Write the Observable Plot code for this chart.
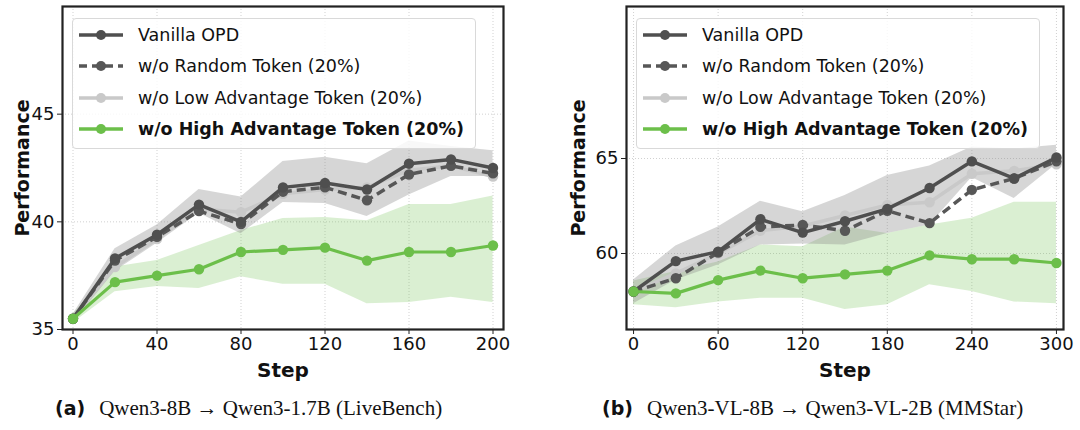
<!DOCTYPE html>
<html>
<head>
<meta charset="utf-8">
<script src="https://cdn.jsdelivr.net/npm/d3@7"></script>
<script src="https://cdn.jsdelivr.net/npm/@observablehq/plot@0.6"></script>
<style>
  html, body { margin: 0; padding: 0; background: #fff; }
  #wrap { position: relative; width: 1080px; height: 430px; overflow: hidden; }
  .panel { position: absolute; top: 0; width: 540px; height: 385px; }
  .legend {
    position: absolute; top: 18px; width: 404px; height: 131px; box-sizing: border-box;
    border: 1px solid #d9d9d9; border-radius: 4px; background: rgba(255,255,255,0.82);
    padding-top: 0px; font-family: "DejaVu Sans", sans-serif; font-size: 17.5px; color: #111;
  }
  .legend .row { height: 31.5px; display: flex; align-items: center; white-space: nowrap; }
  .legend svg { width: 65px; height: 20px; flex: none; }
  .caption { position: absolute; top: 396px; white-space: nowrap; font-family: "Liberation Serif", serif; font-size: 21px; color: #111; }
  .caption b { font-family: "DejaVu Sans", sans-serif; font-size: 19px; margin-right: 14px; }
</style>
</head>
<body>
<div id="wrap"></div>
<script>
// ---------- names ----------
const seriesNames = ["Vanilla OPD", "w/o Random Token (20%)", "w/o Low Advantage Token (20%)", "w/o High Advantage Token (20%)"];
const captionTags = ["(a)", "(b)"];
const captionTexts = ["Qwen3-8B → Qwen3-1.7B (LiveBench)", "Qwen3-VL-8B → Qwen3-VL-2B (MMStar)"];
const xLabel = "Step";
const yLabel = "Performance";

// ---------- panel (a) ----------
const stepsA = [0, 20, 40, 60, 80, 100, 120, 140, 160, 180, 200];
const vanillaA = [35.5, 38.3, 39.4, 40.8, 40.0, 41.6, 41.8, 41.5, 42.7, 42.9, 42.5];
const randomA  = [35.5, 38.2, 39.3, 40.5, 39.9, 41.4, 41.6, 41.0, 42.2, 42.6, 42.25];
const lowA     = [35.5, 37.9, 39.2, 40.6, 40.45, 41.3, 41.5, 41.6, 42.4, 42.6, 42.1];
const highA    = [35.5, 37.2, 37.5, 37.8, 38.6, 38.7, 38.8, 38.2, 38.6, 38.6, 38.9];
const vanillaLoA = [35.3, 37.7, 39.0, 40.4, 39.45, 40.9, 40.85, 40.25, 41.25, 42.1, 42.1];
const vanillaHiA = [35.7, 38.75, 39.85, 41.5, 41.15, 42.8, 43.0, 42.7, 43.75, 43.5, 43.3];
const highLoA = [35.3, 36.75, 37.0, 36.9, 37.45, 37.1, 37.1, 36.2, 36.25, 36.5, 36.25];
const highHiA = [35.7, 37.9, 38.2, 38.9, 39.6, 40.15, 40.2, 40.05, 40.8, 40.8, 41.2];
const xTicksA = [0, 40, 80, 120, 160, 200];
const yTicksA = [35, 40, 45];

// ---------- panel (b) ----------
const stepsB = [0, 30, 60, 90, 120, 150, 180, 210, 240, 270, 300];
const vanillaB = [58.0, 59.6, 60.1, 61.8, 61.1, 61.7, 62.35, 63.45, 64.85, 63.95, 65.05];
const randomB  = [58.0, 58.7, 60.05, 61.4, 61.5, 61.2, 62.25, 61.6, 63.35, 63.95, 64.85];
const lowB     = [58.0, 58.95, 60.0, 61.2, 61.45, 62.0, 62.55, 62.7, 64.2, 64.35, 64.7];
const highB    = [58.0, 57.9, 58.6, 59.1, 58.7, 58.9, 59.1, 59.9, 59.7, 59.7, 59.5];
const vanillaLoB = [57.35, 58.6, 59.4, 60.45, 60.5, 60.45, 61.05, 61.5, 64.0, 62.9, 64.7];
const vanillaHiB = [58.6, 60.4, 61.4, 62.75, 62.2, 63.05, 64.1, 64.6, 65.6, 65.5, 65.7];
const highLoB = [57.3, 57.15, 57.45, 57.65, 57.65, 57.05, 57.3, 58.35, 58.0, 57.45, 57.35];
const highHiB = [58.55, 59.05, 59.55, 60.45, 60.35, 61.4, 61.05, 61.5, 61.85, 62.7, 62.7];
const xTicksB = [0, 60, 120, 180, 240, 300];
const yTicksB = [60, 65];

// ---------- styles ----------
const colVanilla = "#4f4f4f";
const colRandom = "#575757";
const colLow = "#c9c9c9";
const colHigh = "#6cbf4a";
const seriesStyles = [
  {stroke: colVanilla, dash: null, bold: false},
  {stroke: colRandom, dash: "8,5", bold: false},
  {stroke: colLow, dash: null, bold: false},
  {stroke: colHigh, dash: null, bold: true}
];

function makeChart(cfg) {
  const rows = cfg.steps.map((s, i) => ({
    step: s, vanilla: cfg.vanilla[i], random: cfg.random[i], low: cfg.low[i], high: cfg.high[i],
    vLo: cfg.vLo[i], vHi: cfg.vHi[i], hLo: cfg.hLo[i], hHi: cfg.hHi[i]
  }));
  const lineOpts = (key, stroke, extra = {}) =>
    Plot.line(rows, {x: "step", y: key, stroke, strokeWidth: 3.5, strokeLinejoin: "round", strokeLinecap: "butt", ...extra});
  const dotOpts = (key, fill) => Plot.dot(rows, {x: "step", y: key, fill, r: 5.2});
  return Plot.plot({
    width: 540, height: 385,
    marginTop: 6, marginBottom: 56, marginLeft: cfg.marginLeft, marginRight: cfg.marginRight,
    style: {fontFamily: "DejaVu Sans, sans-serif", fontSize: "18px", color: "#111", background: "transparent"},
    x: {domain: cfg.xDomain},
    y: {domain: cfg.yDomain},
    marks: [
      Plot.gridX(cfg.xTicks, {stroke: "#999", strokeOpacity: 0.45, strokeDasharray: "1,2"}),
      Plot.gridY(cfg.yTicks, {stroke: "#999", strokeOpacity: 0.45, strokeDasharray: "1,2"}),
      Plot.areaY(rows, {x: "step", y1: "hLo", y2: "hHi", fill: colHigh, fillOpacity: 0.25}),
      Plot.areaY(rows, {x: "step", y1: "vLo", y2: "vHi", fill: "#8a8a8a", fillOpacity: 0.35}),
      lineOpts("low", colLow),
      dotOpts("low", colLow),
      lineOpts("random", colRandom, {strokeDasharray: "9,5"}),
      dotOpts("random", colRandom),
      lineOpts("vanilla", colVanilla),
      dotOpts("vanilla", colVanilla),
      lineOpts("high", colHigh, {strokeWidth: 3.2}),
      dotOpts("high", colHigh),
      Plot.axisX(cfg.xTicks, {tickSize: 5, tickPadding: 3, stroke: "#222", label: null}),
      Plot.axisY(cfg.yTicks, {tickSize: 5, tickPadding: 3, stroke: "#222", label: null}),
      Plot.text([xLabel], {frameAnchor: "bottom", dy: 41, lineAnchor: "middle", fontWeight: "bold", fontSize: 20, fill: "#111"}),
      Plot.text([yLabel], {frameAnchor: "left", dx: -cfg.yLabelOffset, rotate: -90, textAnchor: "middle", lineAnchor: "middle", fontWeight: "bold", fontSize: 19, fill: "#111"}),
      Plot.frame({stroke: "#222", strokeWidth: 2.2})
    ]
  });
}

function makeLegend(left) {
  const div = document.createElement("div");
  div.className = "legend";
  div.style.left = left + "px";
  seriesNames.forEach((name, i) => {
    const st = seriesStyles[i];
    const row = document.createElement("div");
    row.className = "row";
    const dash = st.dash ? `stroke-dasharray="${st.dash}"` : "";
    row.innerHTML = `<svg viewBox="0 0 65 20"><line x1="6" y1="10" x2="50" y2="10" stroke="${st.stroke}" stroke-width="3.5" ${dash}/><circle cx="28" cy="10" r="5" fill="${st.stroke}"/></svg><span style="font-weight:${st.bold ? "bold" : "normal"}">${name}</span>`;
    div.appendChild(row);
  });
  return div;
}

const wrap = document.getElementById("wrap");

const panelA = document.createElement("div");
panelA.className = "panel"; panelA.style.left = "0px";
panelA.appendChild(makeChart({
  steps: stepsA, vanilla: vanillaA, random: randomA, low: lowA, high: highA,
  vLo: vanillaLoA, vHi: vanillaHiA, hLo: highLoA, hHi: highHiA,
  xTicks: xTicksA, yTicks: yTicksA, xDomain: [-5, 205], yDomain: [35, 50],
  marginLeft: 62, marginRight: 37, yLabelOffset: 40
}));
panelA.appendChild(makeLegend(72));
wrap.appendChild(panelA);

const panelB = document.createElement("div");
panelB.className = "panel"; panelB.style.left = "540px";
panelB.appendChild(makeChart({
  steps: stepsB, vanilla: vanillaB, random: randomB, low: lowB, high: highB,
  vLo: vanillaLoB, vHi: vanillaHiB, hLo: highLoB, hHi: highHiB,
  xTicks: xTicksB, yTicks: yTicksB, xDomain: [-5, 305], yDomain: [56, 73],
  marginLeft: 86, marginRight: 17, yLabelOffset: 48
}));
panelB.appendChild(makeLegend(96));
wrap.appendChild(panelB);

[55, 602].forEach((left, i) => {
  const c = document.createElement("div");
  c.className = "caption";
  c.style.left = left + "px";
  c.innerHTML = `<b>${captionTags[i]}</b>${captionTexts[i]}`;
  wrap.appendChild(c);
});
</script>
</body>
</html>
